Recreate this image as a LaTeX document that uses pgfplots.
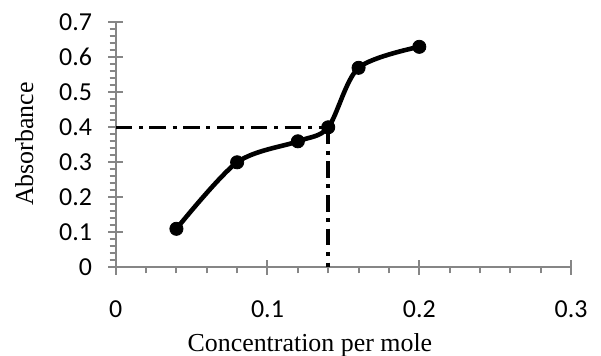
\documentclass[border=0pt]{standalone}
\usepackage{pgfplots}
\pgfplotsset{compat=1.18}
\usepackage{fontspec}
\setmainfont{Carlito}
\newfontfamily\timesfont{Liberation Serif}
\definecolor{axgray}{RGB}{134,134,134}
\begin{document}
\begin{tikzpicture}
\begin{axis}[
  scale only axis, width=227.7bp, height=122.5bp,
  xmin=0, xmax=0.3, ymin=0, ymax=0.7,
  axis lines=left, axis line style={axgray, line width=1bp, -},
  xtick={0,0.1,0.2,0.3}, ytick={0,0.1,0.2,0.3,0.4,0.5,0.6,0.7},
  scaled ticks=false,
  minor x tick num=4, minor y tick num=4,
  tick align=center,
  major tick length=7.5bp, minor tick length=3bp,
  tick style={axgray, line width=1bp},
  minor x tick style={yshift=-1.5bp},
  minor y tick style={xshift=-1.5bp},
  /pgf/number format/assume math mode=true,
  tick label style={font=\fontsize{13}{15}\selectfont},
  label style={font=\fontsize{13}{15}\selectfont},
  xticklabel style={anchor=base, inner sep=0pt, yshift=-21.5bp},
  yticklabel style={anchor=east, inner sep=0pt, xshift=-7.9bp},
  xlabel={\timesfont Concentration per mole},
  xlabel style={at={([yshift=-42bp]rel axis cs:0.4264,0)}, anchor=base, inner sep=0pt},
  ylabel={\timesfont Absorbance},
  ylabel style={at={([xshift=-41.3bp]rel axis cs:0,0.503)}, anchor=base, inner sep=0pt},
  clip=false,
]
\coordinate (o) at (rel axis cs:0,0);
\addplot[black, line width=1.8bp, dash pattern=on 8.3bp off 3.3bp on 2bp off 3.3bp] coordinates {(0,0.40) (0.14,0.40)};
\addplot[black, line width=1.8bp, dash pattern=on 8.3bp off 3.3bp on 2bp off 3.3bp] coordinates {(0.14,0.40) (0.14,0)};
\addplot[black, line width=2.3bp, smooth, mark=*, mark size=3.3bp, mark options={solid, fill=black, line width=0.4bp}] table {
x y
0.04 0.11
0.08 0.30
0.12 0.36
0.14 0.40
0.16 0.57
0.20 0.63
};
\end{axis}
\pgfresetboundingbox
\path[use as bounding box] ([shift={(-57.85bp,-44.35bp)}]o) rectangle ([shift={(242.65bp,133.65bp)}]o);
\end{tikzpicture}
\end{document}
